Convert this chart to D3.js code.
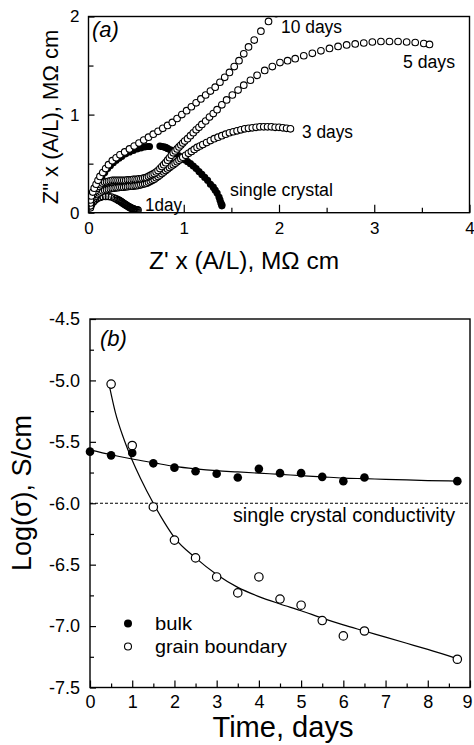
<!DOCTYPE html>
<html><head><meta charset="utf-8">
<script src="https://cdn.jsdelivr.net/npm/d3@7"></script>
<style>
body{margin:0;background:#fff}
svg{display:block}
text{font-family:"Liberation Sans",Arial,Helvetica,sans-serif;fill:#000}
</style>
</head><body>
<svg id="c" width="474" height="745"></svg>
<script>
// ---------------- Panel (a): Nyquist data, [Z', Z''] in MΩ cm ----------------
const singleCrystal = [[0.02,0.07],[0.03,0.12],[0.05,0.17],[0.07,0.22],[0.09,0.27],[0.11,0.32],[0.14,0.37],[0.17,0.41],[0.20,0.45],[0.23,0.48],[0.26,0.51],[0.29,0.535],[0.32,0.555],[0.35,0.575],[0.39,0.60],[0.43,0.62],[0.47,0.635],[0.51,0.65],[0.55,0.66],[0.59,0.67],[0.62,0.675],[0.64,0.675],
  [0.75,0.68],[0.77,0.675],[0.79,0.67],[0.81,0.665],[0.83,0.655],[0.86,0.64],[0.89,0.62],[0.92,0.60],[0.95,0.58],[0.98,0.56],[1.01,0.54],[1.04,0.52],[1.07,0.50],[1.10,0.475],[1.13,0.45],[1.16,0.42],[1.19,0.39],[1.22,0.36],[1.25,0.33],[1.28,0.29],[1.31,0.26],[1.33,0.23],[1.35,0.20],[1.37,0.16],[1.38,0.13],[1.39,0.10],[1.40,0.08],[1.40,0.07]];
const oneDay = [[0.02,0.05],[0.03,0.08],[0.05,0.11],[0.07,0.13],[0.09,0.145],[0.12,0.155],[0.15,0.165],[0.18,0.165],[0.21,0.165],[0.24,0.16],[0.27,0.15],[0.29,0.14],[0.31,0.13],[0.32,0.125],[0.33,0.12],[0.34,0.113],[0.35,0.107],[0.36,0.10],[0.37,0.093],[0.38,0.087],[0.39,0.08],[0.40,0.074],[0.41,0.068],[0.42,0.062],[0.43,0.056],[0.44,0.051],[0.45,0.046],[0.46,0.042],[0.47,0.038],[0.48,0.035],[0.49,0.032],[0.50,0.03],[0.51,0.028],[0.52,0.027]];
const threeDays = [[0.02,0.07],[0.03,0.11],[0.05,0.14],[0.07,0.165],[0.09,0.185],[0.11,0.20],[0.13,0.21],[0.15,0.22],[0.17,0.23],[0.19,0.235],[0.21,0.24],[0.23,0.245],[0.25,0.25],[0.27,0.25],[0.29,0.255],[0.31,0.255],[0.33,0.26],[0.35,0.26],[0.37,0.26],[0.39,0.265],[0.41,0.265],[0.43,0.27],[0.45,0.27],[0.47,0.27],[0.49,0.275],[0.51,0.275],[0.53,0.28],[0.55,0.285],[0.57,0.29],[0.59,0.295],[0.61,0.30],[0.63,0.31],[0.65,0.32],[0.67,0.33],[0.69,0.34],[0.71,0.355],[0.73,0.37],[0.75,0.385],[0.77,0.40],[0.79,0.415],[0.81,0.43],[0.83,0.445],[0.85,0.46],[0.87,0.475],[0.89,0.49],[0.91,0.505],[0.93,0.52],[0.95,0.535],[0.97,0.55],[0.99,0.565],[1.02,0.585],[1.05,0.605],[1.08,0.625],[1.11,0.645],[1.14,0.665],[1.17,0.68],[1.20,0.695],[1.24,0.715],[1.28,0.735],[1.32,0.755],[1.36,0.77],[1.40,0.785],[1.44,0.80],[1.48,0.815],[1.52,0.825],[1.56,0.835],[1.60,0.845],[1.64,0.855],[1.68,0.86],[1.72,0.865],[1.76,0.87],[1.80,0.875],[1.84,0.875],[1.88,0.875],[1.92,0.875],[1.96,0.87],[2.00,0.87],[2.04,0.865],[2.08,0.86],[2.12,0.855]];
const fiveDays = [[0.02,0.10],[0.035,0.15],[0.05,0.19],[0.07,0.22],[0.09,0.25],[0.11,0.27],[0.13,0.285],[0.15,0.30],[0.17,0.31],[0.19,0.315],[0.21,0.32],[0.23,0.325],[0.25,0.33],[0.27,0.33],[0.29,0.33],[0.31,0.33],[0.33,0.33],[0.35,0.33],[0.37,0.33],[0.39,0.33],[0.41,0.335],[0.43,0.335],[0.45,0.335],[0.47,0.34],[0.49,0.34],[0.51,0.34],[0.53,0.345],[0.55,0.345],[0.57,0.35],[0.59,0.355],[0.61,0.36],[0.63,0.37],[0.65,0.38],[0.67,0.39],[0.69,0.40],[0.71,0.415],[0.73,0.43],[0.75,0.45],[0.77,0.47],[0.79,0.49],[0.81,0.51],[0.83,0.535],[0.85,0.56],[0.87,0.585],[0.89,0.61],[0.91,0.63],[0.93,0.65],[0.95,0.67],[0.97,0.69],[0.99,0.71],[1.01,0.73],[1.04,0.755],[1.07,0.785],[1.10,0.815],[1.13,0.845],[1.16,0.87],[1.19,0.90],[1.23,0.935],[1.27,0.975],[1.31,1.01],[1.35,1.05],[1.40,1.10],[1.45,1.15],[1.51,1.20],[1.57,1.25],[1.63,1.30],[1.70,1.35],[1.77,1.40],[1.85,1.45],[1.93,1.49],[2.01,1.53],[2.09,1.55],[2.17,1.57],[2.26,1.60],[2.35,1.625],[2.44,1.65],[2.53,1.675],[2.62,1.695],[2.71,1.71],[2.80,1.72],[2.89,1.73],[2.98,1.74],[3.07,1.745],[3.16,1.745],[3.25,1.745],[3.34,1.74],[3.43,1.735],[3.52,1.725],[3.58,1.715]];
const tenDays = [[0.02,0.13],[0.03,0.17],[0.045,0.21],[0.06,0.25],[0.08,0.29],[0.10,0.33],[0.12,0.37],[0.15,0.41],[0.18,0.45],[0.21,0.49],[0.25,0.53],[0.29,0.56],[0.33,0.59],[0.38,0.62],[0.43,0.65],[0.48,0.68],[0.53,0.71],[0.58,0.74],[0.63,0.77],[0.68,0.80],[0.73,0.83],[0.78,0.86],[0.83,0.89],[0.88,0.92],[0.93,0.96],[0.98,1.00],[1.03,1.04],[1.08,1.08],[1.13,1.12],[1.18,1.16],[1.23,1.20],[1.28,1.24],[1.33,1.28],[1.38,1.33],[1.43,1.38],[1.48,1.43],[1.53,1.49],[1.58,1.55],[1.63,1.62],[1.68,1.69],[1.74,1.76],[1.81,1.85],[1.89,1.95],[1.97,2.03]];
const xTicksA = [0,1,2,3,4];
const xMinorA = [0.5,1.5,2.5,3.5];
const yTicksA = [0,1,2];
const yMinorA = [0.5,1.5];

// ---------------- Panel (b): conductivity vs time ----------------
const timeDays = [0.5,1,1.5,2,2.5,3,3.5,4,4.5,5,5.5,6,6.5,8.7];
const bulkTime = [0].concat(timeDays);
const bulkLog = [-5.58,-5.61,-5.59,-5.675,-5.71,-5.74,-5.76,-5.79,-5.72,-5.755,-5.755,-5.785,-5.82,-5.79,-5.82];
const gbTime = timeDays;
const gbLog = [-5.03,-5.53,-6.03,-6.30,-6.445,-6.60,-6.73,-6.60,-6.78,-6.83,-6.955,-7.08,-7.04,-7.27];
const bulkFitT = [0,0.5,1,1.5,2,2.5,3,3.5,4,4.5,5,5.5,6,6.5,7,7.5,8,8.7];
const bulkFitY = [-5.565,-5.605,-5.64,-5.67,-5.70,-5.72,-5.735,-5.745,-5.755,-5.765,-5.775,-5.785,-5.795,-5.80,-5.805,-5.81,-5.815,-5.82];
const gbFitT = [0.45,0.6,0.8,1.0,1.2,1.5,1.75,2,2.5,3,3.5,4,4.5,5,5.5,6,6.5,7,7.5,8,8.7];
const gbFitY = [-5.03,-5.26,-5.475,-5.65,-5.80,-6.0,-6.15,-6.28,-6.445,-6.58,-6.685,-6.76,-6.82,-6.875,-6.935,-6.99,-7.04,-7.09,-7.14,-7.19,-7.265];
const singleCrystalLog = -6.0;
const xTicksB = [0,1,2,3,4,5,6,7,8,9];
const xMinorB = [0.5,1.5,2.5,3.5,4.5,5.5,6.5,7.5,8.5];
const yTicksB = [-7.5,-7.0,-6.5,-6.0,-5.5,-5.0,-4.5];
const yTickLabelsB = ["-7.5","-7.0","-6.5","-6.0","-5.5","-5.0","-4.5"];
const yMinorB = [-7.25,-6.75,-6.25,-5.75,-5.25,-4.75];

const svg = d3.select("#c");
const FONT = '"Liberation Sans",Arial,sans-serif';

function styleAxis(g, fs){
  g.select(".domain").remove();
  g.selectAll(".tick line").attr("stroke","#000").attr("stroke-width",1.2);
  g.selectAll("text").attr("font-family",FONT).attr("font-size",fs).attr("fill","#000");
}
function label(g, txt, x, y, fs, width, anchor){
  const t = g.append("text").attr("x",x).attr("y",y).attr("font-size",fs).text(txt);
  if (anchor) t.attr("text-anchor",anchor);
  if (width) t.attr("textLength",width).attr("lengthAdjust","spacingAndGlyphs");
  return t;
}

// ================= Panel (a) =================
const xA = d3.scaleLinear().domain([0,4]).range([88.5,469.5]);
const yA = d3.scaleLinear().domain([0,2]).range([212.7,16.5]);
const gA = svg.append("g");

gA.append("defs").append("clipPath").attr("id","clipA").append("rect")
  .attr("x",xA(0)).attr("y",yA(2)).attr("width",xA(4)-xA(0)).attr("height",yA(0)-yA(2));

const dA = gA.append("g").attr("clip-path","url(#clipA)");
dA.append("g").selectAll("circle").data(singleCrystal).join("circle")
  .attr("cx",d=>xA(d[0])).attr("cy",d=>yA(d[1])).attr("r",3.6).attr("fill","#000");
dA.append("g").selectAll("circle").data(oneDay).join("circle")
  .attr("cx",d=>xA(d[0])).attr("cy",d=>yA(d[1])).attr("r",3.3)
  .attr("fill","none").attr("stroke","#000").attr("stroke-width",1.1);
[threeDays, fiveDays, tenDays].forEach(s=>{
  dA.append("g").selectAll("circle").data(s).join("circle")
    .attr("cx",d=>xA(d[0])).attr("cy",d=>yA(d[1])).attr("r",3.3)
    .attr("fill","#fff").attr("stroke","#000").attr("stroke-width",1.1);
});

gA.append("g").attr("transform",`translate(0,${yA(0)})`)
  .call(d3.axisBottom(xA).tickValues(xTicksA).tickSizeInner(-8).tickSizeOuter(0).tickPadding(9).tickFormat(d3.format("d")))
  .call(g=>styleAxis(g,17));
gA.append("g").attr("transform",`translate(0,${yA(0)})`)
  .call(d3.axisBottom(xA).tickValues(xMinorA).tickSizeInner(-5).tickSizeOuter(0).tickFormat(""))
  .call(g=>styleAxis(g,17));
gA.append("g").attr("transform",`translate(${xA(0)},0)`)
  .call(d3.axisLeft(yA).tickValues(yTicksA).tickSizeInner(-6).tickSizeOuter(0).tickPadding(9).tickFormat(d3.format("d")))
  .call(g=>styleAxis(g,17));
gA.append("g").attr("transform",`translate(${xA(0)},0)`)
  .call(d3.axisLeft(yA).tickValues(yMinorA).tickSizeInner(-5).tickSizeOuter(0).tickFormat(""))
  .call(g=>styleAxis(g,17));
gA.append("rect").attr("x",xA(0)).attr("y",yA(2)).attr("width",xA(4)-xA(0)).attr("height",yA(0)-yA(2))
  .attr("fill","none").attr("stroke","#000").attr("stroke-width",1.4);

gA.append("text").attr("x",92).attr("y",37).attr("font-family",'"Liberation Serif","Times New Roman",serif')
  .attr("font-style","italic").attr("font-size",22).text("(a)");
label(gA,"10 days",281,33,18,61);
label(gA,"5 days",403,68,18,52);
label(gA,"3 days",302,138,18,51);
label(gA,"single crystal",230,196,18,103);
label(gA,"1day",145,211,18,37);
label(gA,"Z' x (A/L), MΩ cm",244,269,23,190,"middle");
gA.append("text").attr("transform","translate(50,117) rotate(-90)").attr("text-anchor","middle")
  .attr("dominant-baseline","central").attr("font-size",22).text('Z" x (A/L), MΩ cm');

// ================= Panel (b) =================
const xB = d3.scaleLinear().domain([0,9]).range([90,470]);
const yB = d3.scaleLinear().domain([-7.5,-4.5]).range([687.5,319]);
const gB = svg.append("g");

gB.append("line").attr("x1",xB(0)).attr("x2",xB(9)).attr("y1",yB(singleCrystalLog)).attr("y2",yB(singleCrystalLog))
  .attr("stroke","#000").attr("stroke-width",1).attr("stroke-dasharray","3,2");

const line = d3.line().x(d=>xB(d[0])).y(d=>yB(d[1])).curve(d3.curveMonotoneX);
gB.append("path").attr("d",line(bulkFitT.map((t,i)=>[t,bulkFitY[i]])))
  .attr("fill","none").attr("stroke","#000").attr("stroke-width",1.2);
gB.append("path").attr("d",line(gbFitT.map((t,i)=>[t,gbFitY[i]])))
  .attr("fill","none").attr("stroke","#000").attr("stroke-width",1.2);

gB.append("g").selectAll("circle").data(bulkTime.map((t,i)=>[t,bulkLog[i]])).join("circle")
  .attr("cx",d=>xB(d[0])).attr("cy",d=>yB(d[1])).attr("r",4.3).attr("fill","#000");
gB.append("g").selectAll("circle").data(gbTime.map((t,i)=>[t,gbLog[i]])).join("circle")
  .attr("cx",d=>xB(d[0])).attr("cy",d=>yB(d[1])).attr("r",4.2)
  .attr("fill","#fff").attr("stroke","#000").attr("stroke-width",1.2);

gB.append("g").attr("transform",`translate(0,${yB(-7.5)})`)
  .call(d3.axisBottom(xB).tickValues(xTicksB).tickSizeInner(-7).tickSizeOuter(0).tickPadding(8).tickFormat(d3.format("d")))
  .call(g=>styleAxis(g,18))
  .call(g=>g.selectAll(".tick text").filter(d=>d===9).attr("dx",-3));
gB.append("g").attr("transform",`translate(0,${yB(-7.5)})`)
  .call(d3.axisBottom(xB).tickValues(xMinorB).tickSizeInner(-4).tickSizeOuter(0).tickFormat(""))
  .call(g=>styleAxis(g,18));
gB.append("g").attr("transform",`translate(${xB(0)},0)`)
  .call(d3.axisLeft(yB).tickValues(yTicksB).tickSizeInner(-6).tickSizeOuter(0).tickPadding(10).tickFormat((d,i)=>yTickLabelsB[i]))
  .call(g=>styleAxis(g,18));
gB.append("g").attr("transform",`translate(${xB(0)},0)`)
  .call(d3.axisLeft(yB).tickValues(yMinorB).tickSizeInner(-4).tickSizeOuter(0).tickFormat(""))
  .call(g=>styleAxis(g,18));
gB.append("rect").attr("x",xB(0)).attr("y",yB(-4.5)).attr("width",xB(9)-xB(0)).attr("height",yB(-7.5)-yB(-4.5))
  .attr("fill","none").attr("stroke","#000").attr("stroke-width",1.4);

gB.append("text").attr("x",100).attr("y",346).attr("font-family",'"Liberation Serif","Times New Roman",serif')
  .attr("font-style","italic").attr("font-size",22).text("(b)");
label(gB,"single crystal conductivity",233,522,20,222);
gB.append("circle").attr("cx",128).attr("cy",623.5).attr("r",4).attr("fill","#000");
gB.append("circle").attr("cx",128).attr("cy",646.5).attr("r",3.5).attr("fill","#fff").attr("stroke","#000").attr("stroke-width",1.1);
label(gB,"bulk",155,630,19,37);
label(gB,"grain boundary",155,652.5,19,132);
label(gB,"Time, days",283,737,29,141,"middle");
gB.append("text").attr("transform","translate(22,493) rotate(-90)").attr("text-anchor","middle")
  .attr("dominant-baseline","central").attr("font-size",27).text("Log(σ), S/cm");
</script>
</body></html>
